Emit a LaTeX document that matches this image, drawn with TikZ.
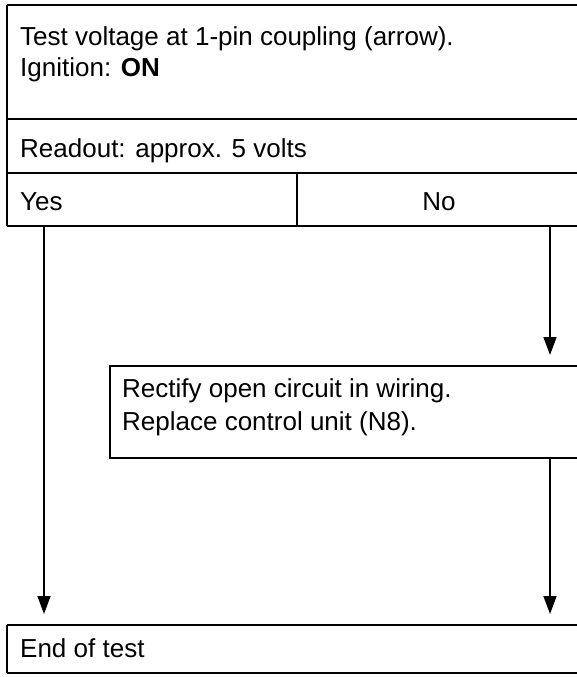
\documentclass[tikz,border=0pt]{standalone}
\usepackage{fontspec}
\setmainfont{Liberation Sans}
\usetikzlibrary{arrows.meta}
\begin{document}
\begin{tikzpicture}[x=1pt,y=-1pt,
  boxline/.style={line width=1.4pt},
  leftline/.style={line width=2.2pt},
  txt/.style={anchor=base west, inner sep=0pt, font=\fontsize{26}{30}\selectfont},
  flow/.style={line width=1.5pt, -{Triangle[length=18pt,width=13pt]}}]
\useasboundingbox (0,0) rectangle (577,677);
% decision box
\draw[boxline] (577,5) -- (7,5);
\draw[boxline] (7,119) -- (577,119);
\draw[boxline] (7,173) -- (577,173);
\draw[boxline] (7,226) -- (577,226);
\draw[leftline] (7,5) -- (7,226);
\draw[boxline] (297,173) -- (297,226);
\node[txt] (t1) at (20,46) {Test voltage at 1-pin coupling (arrow).};
\node[txt] (t2) at (20,77) {Ignition: \textbf{ON}};
\node[txt] (rd) at (20,157) {Readout: approx. 5 volts};
\node[txt] (yes) at (20,210) {Yes};
\node[txt, anchor=base] (no) at (439,210) {No};
% action box
\draw[boxline] (577,366) -- (110,366) -- (110,458) -- (577,458);
\node[txt] (a1) at (122,397) {Rectify open circuit in wiring.};
\node[txt] (a2) at (122,430) {Replace control unit (N8).};
% end box
\draw[boxline] (577,625) -- (7,625);
\draw[boxline] (7,673) -- (577,673);
\draw[leftline] (7,625) -- (7,673);
\node[txt] (e1) at (20,657) {End of test};
% connectors
\coordinate (yesout) at (44,226);
\coordinate (noout) at (550,226);
\coordinate (actin) at (550,355);
\coordinate (actout) at (550,458);
\coordinate (endin1) at (44,614);
\coordinate (endin2) at (550,614);
\draw[flow] (yesout) -- (endin1);
\draw[flow] (noout) -- (actin);
\draw[flow] (actout) -- (endin2);
\end{tikzpicture}
\end{document}
